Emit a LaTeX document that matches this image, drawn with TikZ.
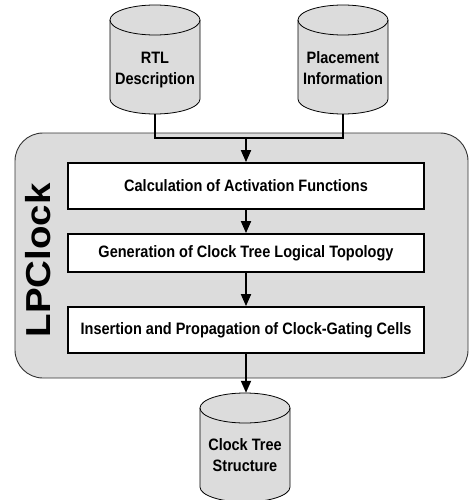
\documentclass[tikz,border=0pt]{standalone}
\usepackage{fontspec}
\usepackage{graphicx}
\usetikzlibrary{arrows.meta}
\newfontfamily\diagfont{Liberation Sans}[FakeStretch=0.88]
\newfontfamily\titlefont{Liberation Sans}
\definecolor{panelgray}{HTML}{DCDCDC}

% database drum: #1 name, #2 centre x, #3 top y, #4 bottom y, #5 label y, #6 label
\newcommand\drum[6]{%
  \path[drumbody] (#2-45,#3-15) -- (#2-45,#4+15)
    arc[start angle=180,end angle=360,x radius=45,y radius=15]
    -- (#2+45,#3-15)
    arc[start angle=0,end angle=180,x radius=45,y radius=15] -- cycle;
  \draw[drumline] (#2-45,#3-15)
    arc[start angle=180,end angle=360,x radius=45,y radius=15];
  \node[inner sep=0pt, minimum width=90pt, minimum height={#3-(#4)}]
    (#1) at (#2,{(#3+#4)/2}) {};
  \node[drumtext] (#1-label) at (#2,#5) {#6};
}

\begin{document}
\begin{tikzpicture}[x=1pt,y=1pt,
  labelfont/.style={font=\diagfont\bfseries\fontsize{16.5}{21}\selectfont},
  drumbody/.style={draw=black, line width=0.8pt, fill=panelgray},
  drumline/.style={draw=black, line width=0.8pt},
  drumtext/.style={labelfont, align=center, inner sep=0pt},
  panel/.style={draw=black!80, line width=0.9pt, fill=panelgray,
    rounded corners=28pt, inner sep=0pt},
  stage/.style={draw=black, line width=1.8pt, fill=white, labelfont,
    minimum width=356pt, inner sep=0pt},
  link/.style={line width=1.8pt},
  flow/.style={line width=1.8pt, -{Triangle[length=12pt,width=10pt]}},
]
\useasboundingbox (0,0) rectangle (469,-500);

% LPClock panel
\node[panel, minimum width=453pt, minimum height=245pt] (panel) at (241.5,-255.5) {};
\node[rotate=90, anchor=base, inner sep=0pt] (title) at (50,-260.5)
  {\titlefont\bfseries\fontsize{38.5}{40}\selectfont\scalebox{1}[0.9]{LPClock}};

% processing stages
\node[stage, minimum height=46pt] (calc) at (246,-186) {Calculation of Activation Functions};
\node[stage, minimum height=38pt] (gen)  at (246,-253) {Generation of Clock Tree Logical Topology};
\node[stage, minimum height=46pt] (ins)  at (246,-330) {Insertion and Propagation of Clock-Gating Cells};

% inputs and output
\drum{rtl}{155}{-5}{-114}{-70}{RTL\\Description}
\drum{place}{343}{-5}{-114}{-68.5}{Placement\\Information}
\drum{ctree}{245}{-393}{-502}{-455.5}{Clock Tree\\Structure}

% connectors
\coordinate (join) at (246,-138);
\draw[link] (rtl.south) |- (join) -| (place.south);
\draw[flow] (join) -- (calc.north);
\draw[flow] (calc.south) -- (gen.north);
\draw[flow] (gen.south) -- (ins.north);
\draw[flow] (ins.south) -- (ins.south |- ctree.north);
\end{tikzpicture}
\end{document}
